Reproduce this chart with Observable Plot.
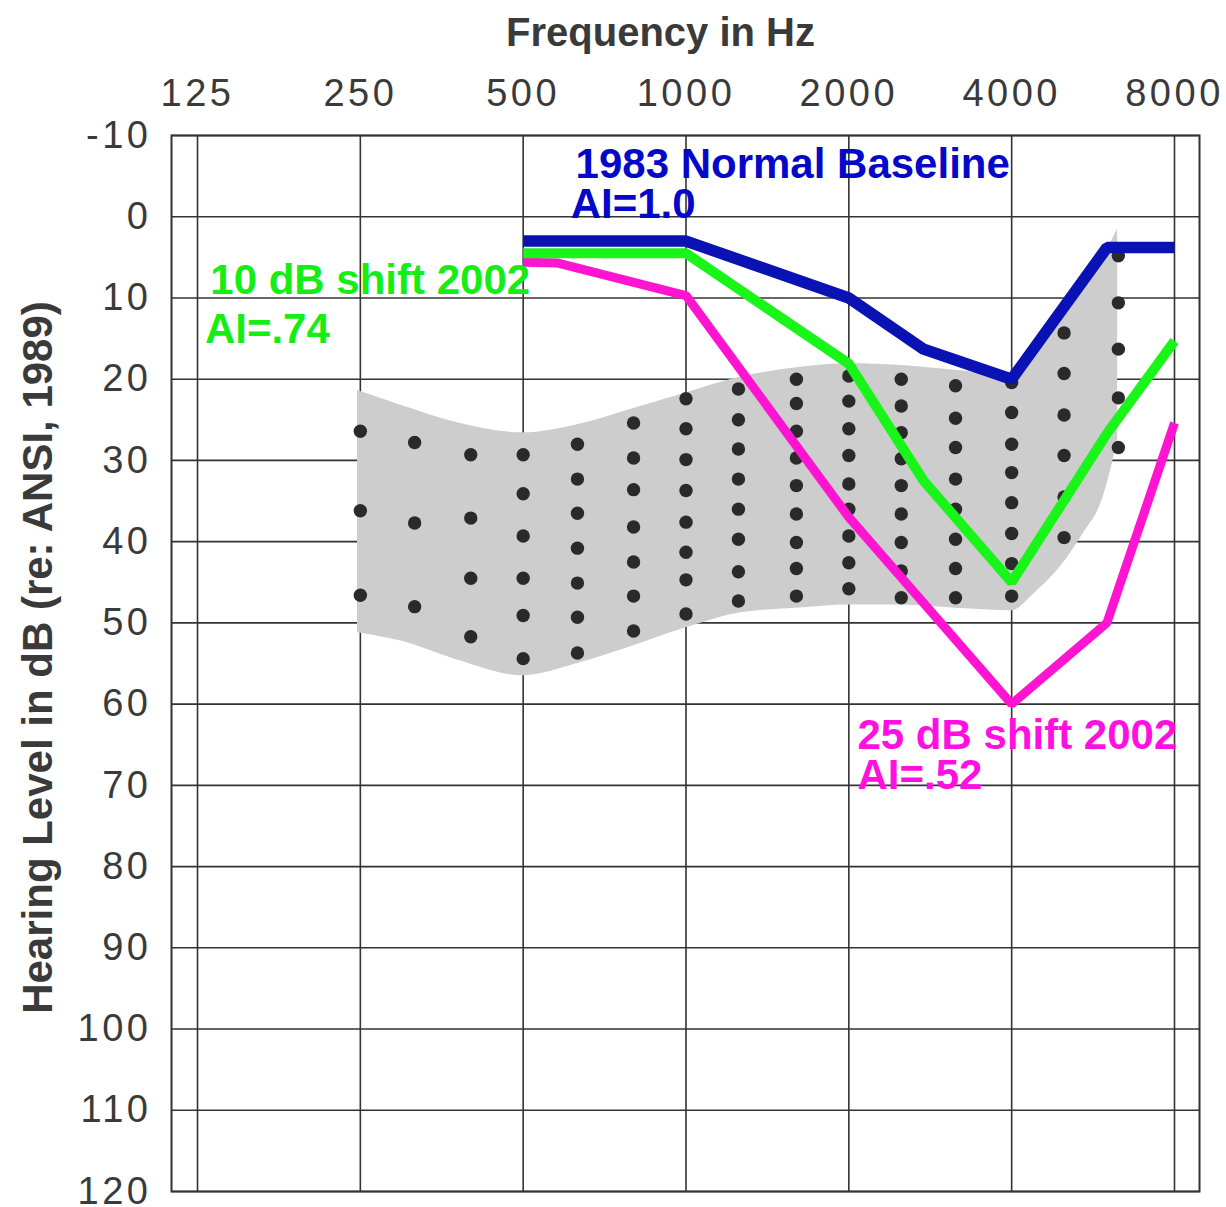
<!DOCTYPE html>
<html>
<head>
<meta charset="utf-8">
<script src="https://cdn.jsdelivr.net/npm/d3@7"></script>
<script src="https://cdn.jsdelivr.net/npm/@observablehq/plot@0.6"></script>
<style>
  html, body { margin: 0; padding: 0; background: #fff; }
  #chart svg { display: block; font-family: "Liberation Sans", Arial, sans-serif; }
  g[aria-label="x-axis tick label"] text,
  g[aria-label="y-axis tick label"] text { letter-spacing: 3.5px; }
</style>
</head>
<body>
<div id="chart"></div>
<script>
// ---- Axis ticks ----
const freqTicks = [125, 250, 500, 1000, 2000, 4000, 8000];
const levelTicks = [-10, 0, 10, 20, 30, 40, 50, 60, 70, 80, 90, 100, 110, 120];

// ---- Audiogram series (Hz, dB HL) ----
const baselineFreq = [500, 1000, 2000, 2750, 4000, 6000, 8000];
const baselineLevel = [3, 3, 10, 16.3, 20, 3.8, 3.8];

const shift10Freq = [500, 1000, 2000, 2750, 4000, 6000, 8000];
const shift10Level = [4.5, 4.5, 18.1, 32.5, 45, 26.7, 15.3];

const shift25Freq = [500, 580, 1000, 2000, 4000, 6000, 8000];
const shift25Level = [5.6, 5.7, 9.7, 37, 60, 50, 25.4];

// ---- Speech region (banana) outline ----
const bandFreq   = [247, 300, 375, 500, 630, 800, 1000, 1250, 1600, 2000, 2500, 3150, 4000, 4400, 5000, 5400, 5900, 6280];
const bandTop    = [21.4, 23.3, 25.3, 26.6, 25.6, 23.6, 21.7, 19.8, 18.6, 18.1, 18.3, 18.9, 19.5, 16.5, 11.5, 8.5, 5, 1.5];
const bandBottom = [51.2, 52.3, 54.5, 56.5, 55.0, 52.8, 50.6, 48.8, 48.2, 47.8, 47.8, 48.2, 48.5, 46.4, 42.5, 39.2, 34.6, 27.6];

// ---- Count-the-dots (1/3-octave columns) ----
const dotFreqs = [250, 315, 400, 500, 630, 800, 1000, 1250, 1600, 2000, 2500, 3150, 4000, 5000, 6300];
const dotLevels = [
  [26.4, 36.2, 46.6],
  [27.8, 37.7, 48.0],
  [29.3, 37.1, 44.5, 51.7],
  [29.3, 34.1, 39.3, 44.5, 49.1, 54.4],
  [28.0, 32.3, 36.5, 40.8, 45.1, 49.3, 53.7],
  [25.4, 29.7, 33.6, 38.2, 42.5, 46.7, 51.0],
  [22.4, 26.1, 29.9, 33.7, 37.6, 41.3, 44.7, 48.9],
  [21.2, 25.0, 28.6, 32.3, 36.0, 39.7, 43.7, 47.3],
  [20.0, 23.0, 26.4, 29.7, 33.1, 36.6, 40.1, 43.3, 46.7],
  [19.6, 22.7, 26.1, 29.4, 32.9, 36.0, 39.3, 42.6, 45.8],
  [20.0, 23.3, 26.6, 29.8, 33.1, 36.6, 40.1, 43.6, 46.9],
  [20.8, 24.8, 28.4, 32.3, 36.0, 39.7, 43.3, 46.9],
  [20.4, 24.1, 28.0, 31.5, 35.2, 39.0, 42.7, 46.7],
  [14.3, 19.3, 24.4, 29.4, 34.5, 39.5],
  [4.8, 10.6, 16.3, 22.3, 28.4]
];

// ---- Annotations ----
const noteText  = ["1983 Normal Baseline", "AI=1.0", "10 dB shift 2002", "AI=.74", "25 dB shift 2002", "AI=.52"];
const noteFreq  = [625, 612, 132, 129, 2075, 2075];
const noteLevel = [-4.8, 0.2, 9.5, 15.5, 65.5, 70.4];
const noteSeries = ["base", "base", "s10", "s10", "s25", "s25"];

// ---- Build tables ----
const zip = (fs, ls) => fs.map((f, i) => ({f, l: ls[i]}));
const baseline = zip(baselineFreq, baselineLevel);
const shift10 = zip(shift10Freq, shift10Level);
const shift25 = zip(shift25Freq, shift25Level);
const band = bandFreq.map((f, i) => ({f, top: bandTop[i], bottom: bandBottom[i]}));
const dots = dotFreqs.flatMap((f, i) => dotLevels[i].map(l => ({f, l})));
const notes = noteText.map((t, i) => ({t, f: noteFreq[i], l: noteLevel[i], s: noteSeries[i]}));

const lineColor = {base: "#0a12b4", s10: "#19f519", s25: "#ff14d2"};
const textColor = {base: "#0508c8", s10: "#14ee14", s25: "#ff10e0"};

const chart = Plot.plot({
  width: 1226,
  height: 1207,
  marginLeft: 171,
  marginRight: 27,
  marginTop: 135,
  marginBottom: 16,
  style: {background: "#fff", fontFamily: "Liberation Sans, Arial, sans-serif"},
  x: {type: "log", domain: [111.9, 8898.6]},
  y: {domain: [-10, 120], reverse: true},
  marks: [
    Plot.ruleX(freqTicks, {stroke: "#333", strokeWidth: 1.6}),
    Plot.ruleY(levelTicks, {stroke: "#333", strokeWidth: 1.6}),
    Plot.frame({stroke: "#333", strokeWidth: 2}),
    Plot.areaY(band, {x: "f", y1: "bottom", y2: "top", curve: "monotone-x", fill: "#cdcdcd"}),
    Plot.dot(dots, {x: "f", y: "l", r: 6.7, fill: "#2a2a2a", stroke: "none"}),
    Plot.line(shift25, {x: "f", y: "l", stroke: lineColor.s25, strokeWidth: 9, strokeLinejoin: "miter", strokeLinecap: "butt"}),
    Plot.line(shift10, {x: "f", y: "l", stroke: lineColor.s10, strokeWidth: 10, strokeLinejoin: "miter", strokeLinecap: "butt"}),
    Plot.line(baseline, {x: "f", y: "l", stroke: lineColor.base, strokeWidth: 11.5, strokeLinejoin: "miter", strokeLinecap: "butt"}),
    Plot.text(notes, {x: "f", y: "l", text: "t", fill: d => textColor[d.s], textAnchor: "start", lineAnchor: "bottom", fontSize: 42, fontWeight: "bold"}),
    Plot.axisX(freqTicks, {anchor: "top", tickSize: 0, tickPadding: 30, tickFormat: d => String(d), fontSize: 38, fill: "#3a3a3a", label: null}),
    Plot.axisY(levelTicks, {anchor: "left", tickSize: 0, tickPadding: 20, tickFormat: d => String(d), fontSize: 38, fill: "#3a3a3a", label: null}),
    Plot.text(["Frequency in Hz"], {frameAnchor: "top", dx: -25, dy: -90, textAnchor: "middle", lineAnchor: "bottom", fontSize: 40, fontWeight: "bold", fill: "#3a3a3a"}),
    Plot.text(["Hearing Level in dB (re: ANSI, 1989)"], {frameAnchor: "left", dx: -133, dy: -6, rotate: -90, textAnchor: "middle", lineAnchor: "middle", fontSize: 42, fontWeight: "bold", fill: "#3a3a3a"})
  ]
});
document.getElementById("chart").appendChild(chart);
</script>
</body>
</html>
